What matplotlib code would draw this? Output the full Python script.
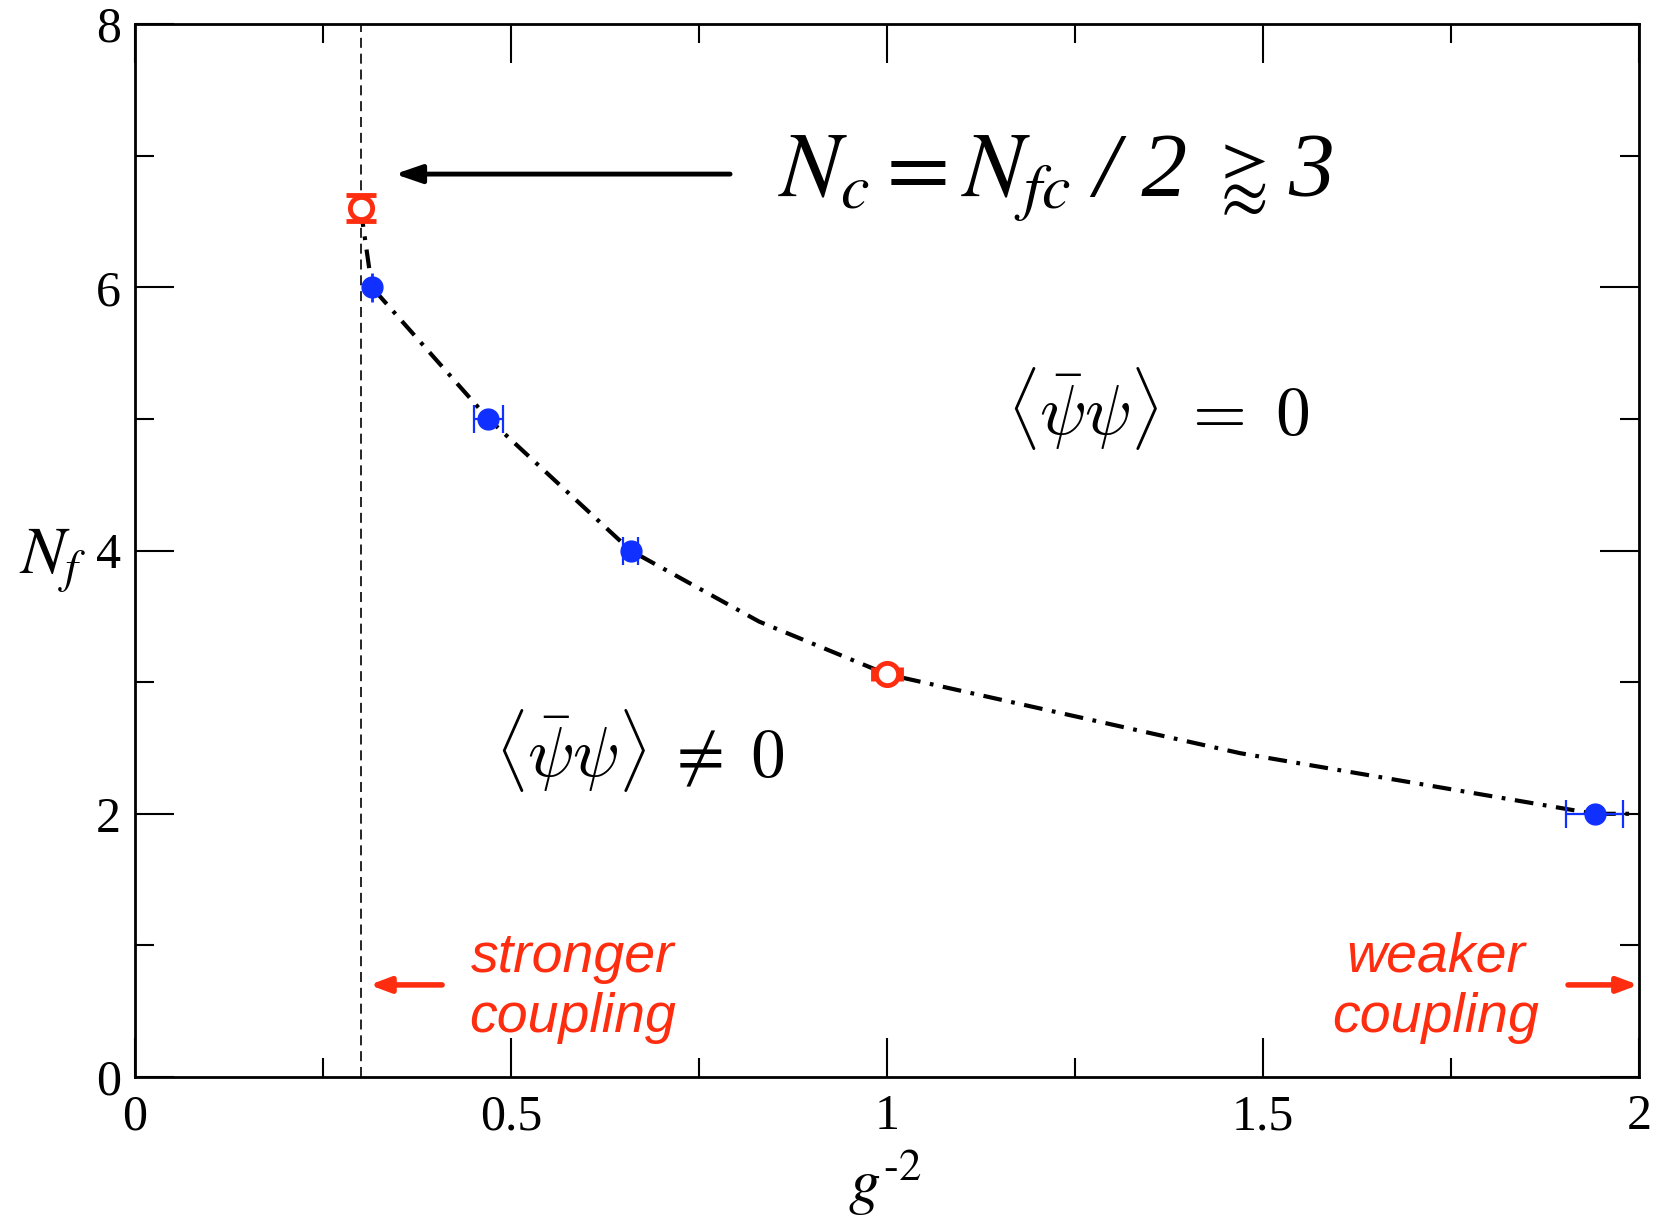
import numpy as np
import matplotlib
matplotlib.use("Agg")
import matplotlib.pyplot as plt
from matplotlib.offsetbox import TextArea, HPacker, AnnotationBbox

plt.rcParams["font.family"] = ["Liberation Serif", "DejaVu Serif"]
plt.rcParams["mathtext.fontset"] = "stix"

# measured points (g^-2, N_f)
blue_x = [0.315, 0.47, 0.659, 1.941]
blue_y = [6.0, 5.0, 4.0, 2.0]
blue_xerr = [0.0, 0.019, 0.010, 0.038]
blue_yerr = [0.11, 0.0, 0.0, 0.0]

red_x = [0.300, 1.0]
red_y = [6.60, 3.06]
red_xerr = [0.0, 0.018]
red_yerr = [0.10, 0.0]

# dash-dot guide curve
curve_x = [0.300, 0.315, 0.47, 0.659, 0.83, 1.0, 1.47, 1.941, 2.0]
curve_y = [6.60, 6.0, 5.0, 4.0, 3.46, 3.06, 2.46, 2.0, 2.0]

x_crit = 0.30

blue = "#1030ff"
red = "#ff2d10"

fig = plt.figure(figsize=(16.53, 12.26), dpi=100)
ax = fig.add_axes([0.0817, 0.1215, 0.9098, 0.8589])

ax.plot(curve_x, curve_y, color="black", lw=3, dashes=(4.5, 2.3, 0.9, 2.3), zorder=2)
ax.axvline(x_crit, color="black", lw=1.2, dashes=(6, 3.5), zorder=1)

# first blue point has no caps
ax.errorbar(blue_x[:1], blue_y[:1], yerr=blue_yerr[:1], fmt="o", color=blue,
            ms=15, elinewidth=2, capsize=0, zorder=4)
ax.errorbar(blue_x[1:], blue_y[1:], xerr=blue_xerr[1:], fmt="o", color=blue,
            ms=15, elinewidth=1.6, capsize=10, capthick=1.6, zorder=4)
ax.errorbar(red_x[:1], red_y[:1], yerr=red_yerr[:1], fmt="o", color=red,
            mfc="white", mec=red, mew=3.5, ms=16, elinewidth=2, capsize=11,
            capthick=2, zorder=4)
ax.errorbar(red_x[1:], red_y[1:], xerr=red_xerr[1:], fmt="o", color=red,
            mfc="white", mec=red, mew=3.5, ms=16, elinewidth=2, capsize=5,
            capthick=2, zorder=4)

ax.set_xlim(0, 2)
ax.set_ylim(0, 8)
ax.set_xticks([0, 0.5, 1, 1.5, 2])
ax.set_xticklabels(["0", "0.5", "1", "1.5", "2"])
ax.set_xticks([0.25, 0.75, 1.25, 1.75], minor=True)
ax.set_yticks([0, 2, 4, 6, 8])
ax.set_yticks([1, 3, 5, 7], minor=True)
ax.tick_params(which="both", direction="in", top=True, right=True, width=1.5,
               labelsize=36)
ax.tick_params(axis="x", pad=12)
ax.tick_params(axis="y", pad=10)
ax.tick_params(which="major", length=28)
ax.tick_params(which="minor", length=14)
for s in ax.spines.values():
    s.set_linewidth(2)

ax.set_xlabel(r"$g^{\mathrm{\text{-}2}}$", fontsize=46, va="center")
ax.xaxis.set_label_coords(0.499, -0.1)
ax.set_ylabel(r"$N_{\!\,f}$", fontsize=48, rotation=0, va="center")
ax.yaxis.set_label_coords(-0.055, 0.49)

# main annotation
ax.annotate("", xy=(0.342, 6.86), xytext=(0.795, 6.86),
            arrowprops=dict(arrowstyle="-|>,head_length=1.6,head_width=0.55",
                            color="black", lw=3.5))
big = 66
parts = [
    TextArea(r"$N_c = N_{fc}$", textprops=dict(fontsize=big)),
    TextArea("/ 2", textprops=dict(fontsize=big, style="italic")),
    TextArea(r"$\gtrapprox$", textprops=dict(fontsize=50)),
    TextArea("3", textprops=dict(fontsize=big, style="italic")),
]
box = HPacker(children=parts, align="baseline", pad=0, sep=16)
ab = AnnotationBbox(box, (0.855, 6.83), box_alignment=(0, 0.5), frameon=False,
                    xycoords="data")
ax.add_artist(ab)

ax.text(1.159, 5.08, r"$\langle\bar{\psi}\psi\rangle\;=\;0$", fontsize=50,
        math_fontfamily="cm", ha="left", va="center")
ax.text(0.479, 2.48, r"$\langle\bar{\psi}\psi\rangle\:\neq\:0$", fontsize=50,
        math_fontfamily="cm", ha="left", va="center")

# coupling direction labels
lab = dict(color=red, fontsize=40, style="italic", family="Liberation Sans",
           ha="center", va="center", linespacing=1.2)
ax.text(0.582, 0.68, "stronger\ncoupling", **lab)
ax.text(1.73, 0.68, "weaker\ncoupling", **lab)
ax.annotate("", xy=(0.308, 0.70), xytext=(0.412, 0.70),
            arrowprops=dict(arrowstyle="-|>,head_length=1.2,head_width=0.45",
                            color=red, lw=4))
ax.annotate("", xy=(2.003, 0.70), xytext=(1.902, 0.70), annotation_clip=False,
            arrowprops=dict(arrowstyle="-|>,head_length=1.2,head_width=0.45",
                            color=red, lw=4))

fig.savefig("out.png", dpi=100)
